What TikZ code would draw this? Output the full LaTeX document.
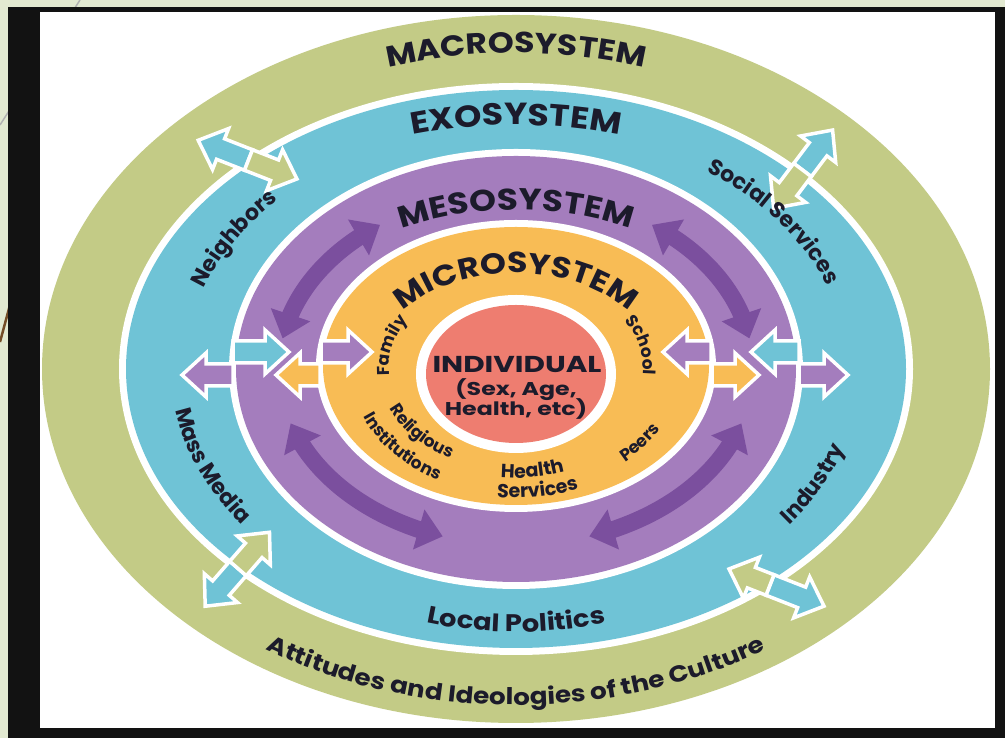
\documentclass[tikz,border=0pt]{standalone}
\usepackage{fontspec}
\setmainfont{Poppins}
\newfontfamily\titlefont{Poppins}[FakeStretch=1.14]
\newfontfamily\widefont{Poppins}[FakeStretch=1.28]
\usetikzlibrary{arrows.meta,bending,decorations.text}
\definecolor{slidebg}{HTML}{E2E9D1}
\definecolor{macro}{HTML}{C3CB86}
\definecolor{exo}{HTML}{6FC3D6}
\definecolor{meso}{HTML}{A47DBD}
\definecolor{mesodark}{HTML}{7B4F9E}
\definecolor{micro}{HTML}{F8BC55}
\definecolor{indiv}{HTML}{EE7D70}
\definecolor{ink}{HTML}{1C1B2B}
\newcommand{\ringfontT}[1]{\titlefont\fontsize{#1}{#1}\selectfont\bfseries\color{ink}}
\newcommand{\ringfontM}{\fontsize{22}{22}\selectfont\bfseries\color{ink}}
\newcommand{\ringfontS}{\fontsize{17}{17}\selectfont\bfseries\color{ink}}
\newcommand{\ringfontH}{\fontsize{19}{19}\selectfont\bfseries\color{ink}}
\tikzset{
  arrowline/.style={draw=white, line width=3.5pt, line join=miter},
  bendarrow/.style={mesodark, line width=17pt,
    {Triangle[width=40pt,length=25pt]}-{Triangle[width=40pt,length=25pt]}},
}
% block arrow: base point, direction, fill colour, total length
\newcommand{\sysarrow}[4]{%
  \begin{scope}[shift={#1}, rotate=#2]
    \filldraw[fill=#3, arrowline] (0,-11) -- ({#4-24},-11) -- ({#4-24},-22) -- (#4,0)
      -- ({#4-24},22) -- ({#4-24},11) -- (0,11) -- cycle;
  \end{scope}}
% text along an elliptic arc: centre, x radius, y radius, start, end, format, text
\newcommand{\ringtext}[7]{%
  \path[decorate, decoration={text along path, text align=center, text={|#6|#7}}]
    ([shift={#1}]#4:#2pt and #3pt) arc[start angle=#4, end angle=#5, x radius=#2pt, y radius=#3pt];}
\begin{document}
\begin{tikzpicture}[x=1pt,y=1pt]
\useasboundingbox (0,0) rectangle (1005,738);
% slide background and frame
\fill[slidebg] (0,0) rectangle (1005,738);
\draw[line width=1.5pt, color=gray!60] (80,738) -- (0,613);
\draw[line width=2.5pt, color=brown!60!black] (14,448) -- (0,396);
\fill[black!93] (8,0) rectangle (1005,731);
\fill[white] (40,10) rectangle (995,726);
% rings
\coordinate (C) at (516,369);
\coordinate (CY) at (516,372);
\coordinate (CR) at (516,364);
\fill[macro] (C) ellipse [x radius=474pt, y radius=354pt];
\fill[white] (C) ellipse [x radius=397pt, y radius=286pt];
\fill[exo] (C) ellipse [x radius=390pt, y radius=279pt];
\fill[white] (C) ellipse [x radius=287pt, y radius=220pt];
\fill[meso] (C) ellipse [x radius=280pt, y radius=213pt];
\fill[white] (CY) ellipse [x radius=200pt, y radius=146pt];
\fill[micro] (CY) ellipse [x radius=193pt, y radius=139pt];
\fill[white] (CR) ellipse [x radius=100pt, y radius=79pt];
\fill[indiv] (CR) ellipse [x radius=90pt, y radius=69pt];
% curved double arrows in the mesosystem
\draw[bendarrow] ([shift={(516,369)}]125:237pt and 176pt) arc[start angle=125, end angle=170, x radius=237pt, y radius=176pt];
\draw[bendarrow] ([shift={(516,369)}]10:237pt and 176pt) arc[start angle=10, end angle=55, x radius=237pt, y radius=176pt];
\draw[bendarrow] ([shift={(516,369)}]198:237pt and 176pt) arc[start angle=198, end angle=252, x radius=237pt, y radius=176pt];
\draw[bendarrow] ([shift={(516,369)}]288:237pt and 176pt) arc[start angle=288, end angle=342, x radius=237pt, y radius=176pt];
% exosystem / macrosystem arrows
\sysarrow{(248.5,578)}{158.6}{exo}{54}
\sysarrow{(248.5,578)}{-21.4}{macro}{52}
\sysarrow{(802.5,568)}{53}{exo}{50}
\sysarrow{(802.5,568)}{233}{macro}{48}
\sysarrow{(238,169.5)}{229}{exo}{50}
\sysarrow{(238,169.5)}{49}{macro}{48}
\sysarrow{(770,153)}{-21.4}{exo}{58}
\sysarrow{(770,153)}{158.6}{macro}{44}
% horizontal arrows, left
\sysarrow{(233,386)}{0}{exo}{56}
\sysarrow{(233,363)}{180}{meso}{51}
\sysarrow{(321,386)}{0}{meso}{51}
\sysarrow{(320,363)}{180}{micro}{44}
% horizontal arrows, right
\sysarrow{(711,386)}{180}{meso}{48}
\sysarrow{(712,363)}{0}{micro}{47}
\sysarrow{(799,386)}{180}{exo}{48}
\sysarrow{(799,363)}{0}{meso}{49}
% ring titles
\ringtext{(516,369)}{430}{316}{125}{55}{\ringfontT{29}}{MACROSYSTEM}
\ringtext{(516,369)}{367}{244}{125}{55}{\ringfontT{30.5}}{EXOSYSTEM}
\ringtext{(516,369)}{243}{159}{140}{40}{\ringfontT{30}}{MESOSYSTEM}
\ringtext{(516,369)}{141}{96}{178}{2}{\ringfontT{29}}{MICROSYSTEM}
\ringtext{(516,369)}{455}{336}{222}{318}{\ringfontT{23}}{Attitudes and Ideologies of the Culture}
% exosystem labels
\ringtext{(516,369)}{340}{263}{240}{300}{\ringfontT{24}}{Local Politics}
\ringtext{(516,369)}{331}{242}{180}{120}{\ringfontM}{Neighbors}
\ringtext{(516,369)}{331}{242}{66}{6}{\ringfontM}{Social Services}
\ringtext{(516,369)}{345}{256}{172}{232}{\ringfontM}{Mass Media}
\ringtext{(516,369)}{345}{256}{304}{364}{\ringfontM}{Industry}
% microsystem labels
\ringtext{(516,369)}{127}{94}{197}{137}{\ringfontS}{Family}
\ringtext{(516,369)}{127}{94}{43}{-17}{\ringfontS}{School}
\ringtext{(516,369)}{165}{124}{-67}{-7}{\ringfontS}{Peers}
\ringtext{(516,369)}{137}{102}{191}{251}{\ringfontS}{Religious}
\ringtext{(516,369)}{165}{126}{191}{251}{\ringfontS}{Institutions}
\ringtext{(516,369)}{146}{109}{247}{307}{\ringfontH}{Health}
\ringtext{(516,369)}{169}{129}{248}{308}{\ringfontH}{Services}
% individual
\node[text=ink, font=\widefont\fontsize{23}{23}\selectfont\bfseries] (indivtitle) at (517,373) {INDIVIDUAL};
\node[text=ink, font=\widefont\fontsize{18.5}{18.5}\selectfont\bfseries] (indivsub1) at (516,348) {(Sex, Age,};
\node[text=ink, font=\widefont\fontsize{18.5}{18.5}\selectfont\bfseries] (indivsub2) at (516,329) {Health, etc)};
\end{tikzpicture}
\end{document}
